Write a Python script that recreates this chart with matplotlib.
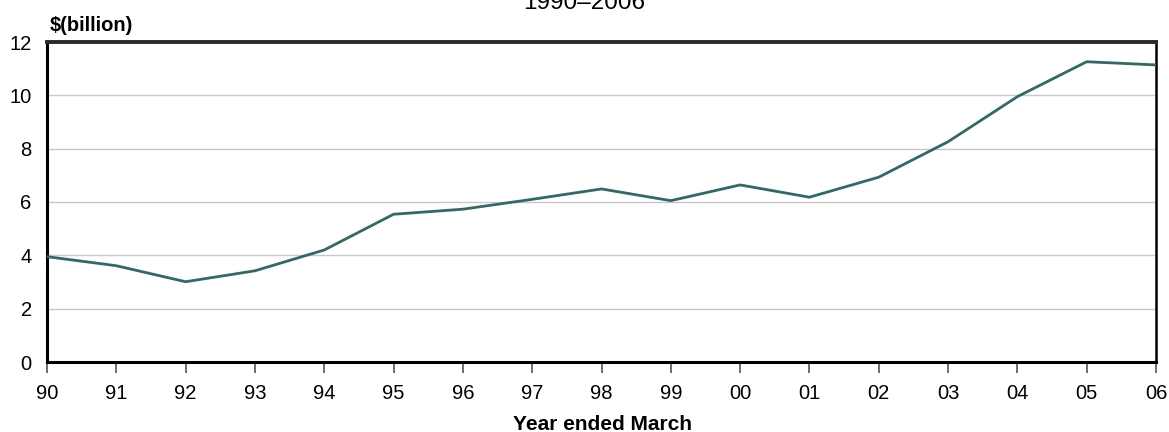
import matplotlib
matplotlib.use("Agg")
import matplotlib.pyplot as plt

years = ["90", "91", "92", "93", "94", "95", "96", "97", "98", "99",
         "00", "01", "02", "03", "04", "05", "06"]
values = [3.95, 3.61, 3.01, 3.42, 4.20, 5.54, 5.73, 6.10, 6.49, 6.05,
          6.64, 6.18, 6.93, 8.26, 9.95, 11.26, 11.14]
yticks = [0, 2, 4, 6, 8, 10, 12]

plt.rcParams['font.family'] = ['Liberation Sans', 'DejaVu Sans']

fig = plt.figure(figsize=(11.69, 4.32), dpi=100)
ax = fig.add_axes([47/1169, 1-362/432, (1156-47)/1169, (362-42)/432])

x = list(range(len(years)))
for yv in yticks[1:-1]:
    ax.axhline(yv, color="#c8c8c8", lw=1.0, zorder=1)
ax.plot(x, values, color="#2f6a66", lw=2.0, zorder=3, solid_joinstyle="miter")

ax.set_xlim(0, len(years)-1)
ax.set_ylim(0, 12)
ax.set_xticks(x)
ax.set_xticklabels(years, fontsize=14.5)
ax.set_yticks(yticks)
ax.set_yticklabels([str(v) for v in yticks], fontsize=14.5)
ax.tick_params(axis='x', direction='out', length=8, width=1.2, color="#555555", pad=8)
ax.tick_params(axis='y', length=0, pad=11)

for side in ["left", "bottom"]:
    ax.spines[side].set_linewidth(2.2)
    ax.spines[side].set_color("black")
ax.spines["top"].set_linewidth(2.8)
ax.spines["top"].set_color("#2a2a2a")
ax.spines["right"].set_linewidth(1.8)
ax.spines["right"].set_color("black")

fig.text(0.5 + 18/1169, 1-430/432, "Year ended March", fontsize=15, fontweight="bold",
         ha="center", va="baseline")
fig.text(50/1169, 1-31/432, "$(billion)", fontsize=14.5, fontweight="bold",
         ha="left", va="baseline")
fig.text(0.5, 1-9/432, "1990–2006", fontsize=17.5, ha="center", va="baseline")

fig.savefig("out.png", dpi=100)
